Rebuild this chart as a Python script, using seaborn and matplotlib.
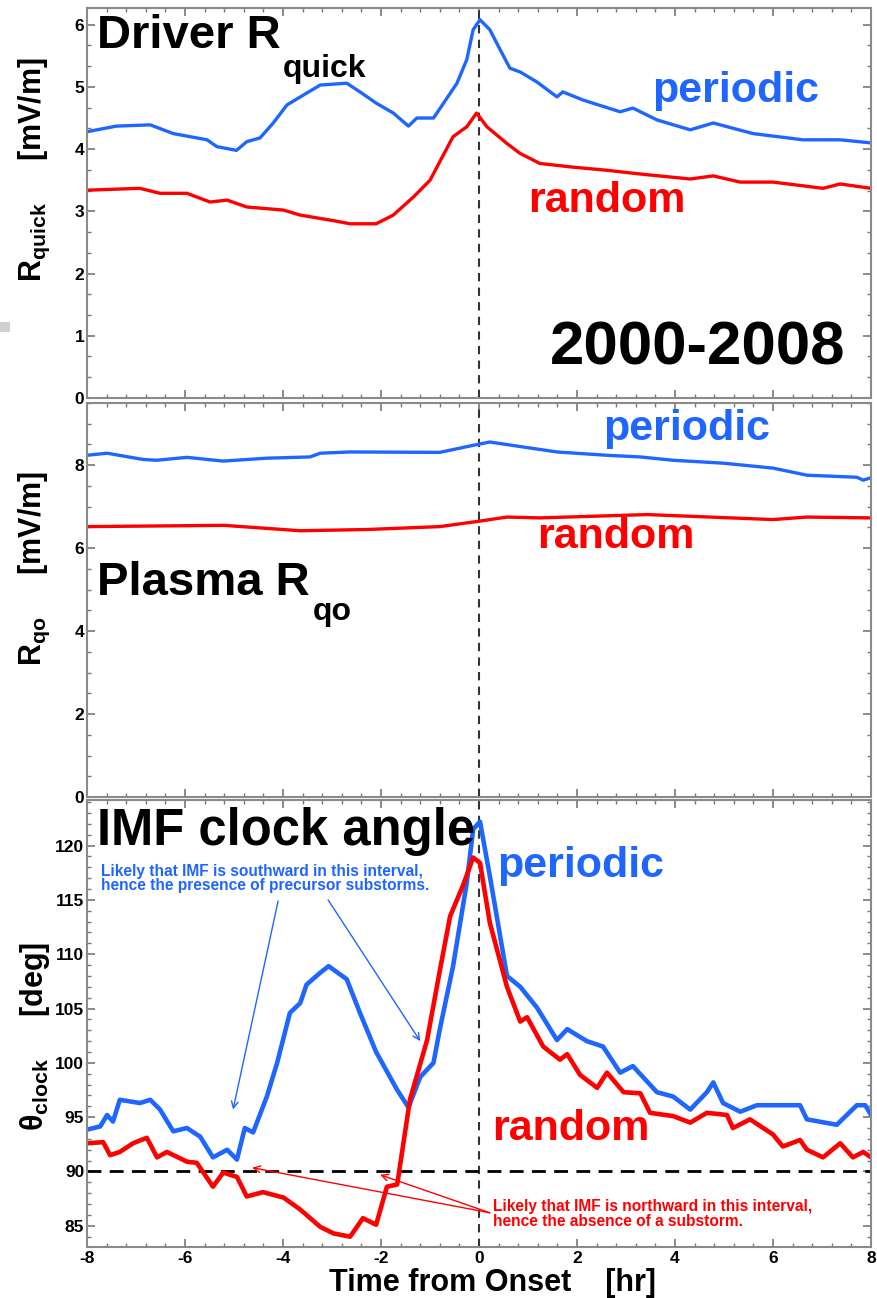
import numpy as np
import pandas as pd
import matplotlib
matplotlib.use("Agg")
import matplotlib.pyplot as plt
import seaborn as sns
from matplotlib.ticker import MultipleLocator, AutoMinorLocator
from matplotlib.patches import Rectangle

# ---------------- data ----------------
p1_periodic_t = [-8, -7.4, -6.71, -6.24, -5.55, -5.35, -4.95, -4.74, -4.47, -4.2, -3.92, -3.52, -3.24, -2.7,
                 -2.43, -2.1, -1.75, -1.44, -1.27, -0.93, -0.8, -0.45, -0.25, -0.12, 0.02, 0.22, 0.43, 0.63,
                 0.84, 1.18, 1.59, 1.71, 2.12, 2.88, 3.14, 3.63, 4.31, 4.78, 5.59, 6.61, 7.37, 8.0]
p1_periodic_v = [4.28, 4.37, 4.39, 4.25, 4.15, 4.04, 3.98, 4.12, 4.18, 4.42, 4.71, 4.9, 5.03, 5.06,
                 4.92, 4.74, 4.58, 4.37, 4.5, 4.5, 4.65, 5.06, 5.44, 5.92, 6.08, 5.92, 5.6, 5.3,
                 5.24, 5.08, 4.84, 4.92, 4.79, 4.6, 4.66, 4.47, 4.31, 4.42, 4.25, 4.15, 4.15, 4.1]

p1_random_t = [-8, -6.92, -6.51, -5.96, -5.49, -5.14, -4.74, -3.99, -3.65, -2.97, -2.63, -2.1, -1.75,
               -1.34, -1.0, -0.8, -0.53, -0.25, -0.05, 0.16, 0.57, 0.84, 1.24, 1.92, 2.61, 3.29, 4.31,
               4.78, 5.33, 6.0, 7.02, 7.37, 8.0]
p1_random_v = [3.34, 3.37, 3.29, 3.29, 3.15, 3.18, 3.07, 3.02, 2.94, 2.85, 2.8, 2.8, 2.94,
               3.23, 3.5, 3.8, 4.2, 4.36, 4.58, 4.36, 4.09, 3.93, 3.77, 3.71, 3.66, 3.6, 3.52,
               3.57, 3.47, 3.47, 3.37, 3.44, 3.37]

p2_periodic_t = [-8, -7.59, -6.86, -6.58, -5.96, -5.22, -4.33, -3.45, -3.24, -2.63, -0.8, -0.12, 0.22,
                 0.9, 1.59, 2.61, 3.29, 3.96, 4.98, 6.0, 6.69, 7.71, 7.84, 8.0]
p2_periodic_v = [8.24, 8.29, 8.14, 8.12, 8.19, 8.1, 8.17, 8.2, 8.29, 8.32, 8.31, 8.48, 8.56,
                 8.44, 8.32, 8.24, 8.2, 8.12, 8.05, 7.93, 7.76, 7.71, 7.64, 7.7]

p2_random_t = [-8, -5.2, -3.65, -2.29, -0.8, 0.0, 0.57, 1.24, 3.43, 6.0, 6.69, 8.0]
p2_random_v = [6.52, 6.55, 6.42, 6.45, 6.52, 6.65, 6.75, 6.73, 6.81, 6.69, 6.75, 6.73]

p3_periodic_t = [-8, -7.73, -7.59, -7.47, -7.33, -6.92, -6.71, -6.51, -6.24, -5.96, -5.69, -5.43, -5.14,
                 -4.94, -4.78, -4.61, -4.33, -4.12, -3.86, -3.65, -3.52, -3.24, -3.07, -2.7, -2.43, -2.1,
                 -1.67, -1.44, -1.2, -0.93, -0.8, -0.53, -0.25, -0.12, 0.02, 0.22, 0.57, 0.84, 1.18, 1.59,
                 1.8, 2.2, 2.53, 2.88, 3.14, 3.63, 3.96, 4.31, 4.65, 4.78, 4.98, 5.33, 5.67, 6.55, 6.69,
                 7.3, 7.71, 7.88, 8.0]
p3_periodic_v = [93.85, 94.15, 95.2, 94.6, 96.6, 96.3, 96.6, 95.7, 93.7, 94.0, 93.2, 91.3, 92.0,
                 91.1, 94.0, 93.6, 96.9, 100.0, 104.6, 105.5, 107.2, 108.3, 108.9, 107.7, 104.6, 101.0,
                 97.5, 95.9, 98.7, 100.0, 103.1, 108.9, 116.6, 121.5, 122.2, 117.2, 108.0, 107.0, 105.1,
                 102.1, 103.1, 102.0, 101.5, 99.1, 99.7, 97.3, 96.9, 95.7, 97.3, 98.2, 96.3, 95.5, 96.1,
                 96.1, 94.8, 94.3, 96.1, 96.1, 95.2]

p3_random_t = [-8, -7.67, -7.53, -7.33, -7.06, -6.78, -6.57, -6.37, -5.96, -5.76, -5.43, -5.22, -4.94,
               -4.74, -4.41, -3.99, -3.65, -3.24, -2.97, -2.63, -2.37, -2.1, -1.88, -1.67, -1.41, -1.06,
               -0.8, -0.59, -0.33, -0.12, 0.02, 0.22, 0.57, 0.84, 0.98, 1.31, 1.65, 1.8, 2.06, 2.41,
               2.61, 2.95, 3.29, 3.49, 3.96, 4.31, 4.65, 5.06, 5.18, 5.53, 6.0, 6.2, 6.55, 6.69, 7.02,
               7.37, 7.63, 7.84, 8.0]
p3_random_v = [92.6, 92.7, 91.5, 91.8, 92.6, 93.1, 91.3, 91.8, 90.9, 90.8, 88.6, 89.9, 89.5,
               87.7, 88.1, 87.6, 86.5, 84.9, 84.3, 84.0, 85.7, 85.1, 88.6, 88.8, 96.6, 102.1,
               108.5, 113.5, 116.3, 118.9, 118.4, 112.9, 107.0, 103.8, 104.2, 101.5, 100.3, 100.8, 98.9,
               97.7, 99.1, 97.3, 97.2, 95.4, 95.1, 94.5, 95.4, 95.2, 94.0, 94.8, 93.4, 92.3, 92.9,
               92.0, 91.3, 92.6, 91.3, 91.8, 91.3]

series_names = ["periodic", "random"]
x_ticks = [-8, -6, -4, -2, 0, 2, 4, 6, 8]
panel_titles = ["Driver R", "Plasma R", "IMF clock angle"]
panel_subs = ["quick", "qo", None]
note_south = "Likely that IMF is southward in this interval,\nhence the presence of precursor substorms."
note_north = "Likely that IMF is northward in this interval,\nhence the absence of a substorm."

BLUE = "#1F66FF"
RED = "#FF0000"

# ---------------- style ----------------
sns.set_style("ticks")
plt.rcParams["font.family"] = ["Liberation Sans", "DejaVu Sans"]
plt.rcParams["font.weight"] = "bold"
plt.rcParams["mathtext.fontset"] = "custom"
plt.rcParams["mathtext.rm"] = "Liberation Sans:bold"
plt.rcParams["mathtext.bf"] = "Liberation Sans:bold"
plt.rcParams["mathtext.it"] = "Liberation Sans:bold"
plt.rcParams["axes.edgecolor"] = "#8a8a8a"
plt.rcParams["axes.linewidth"] = 1.5
plt.rcParams["text.color"] = "black"
plt.rcParams["axes.labelcolor"] = "black"
plt.rcParams["xtick.labelcolor"] = "black"
plt.rcParams["ytick.labelcolor"] = "black"

fig = plt.figure(figsize=(8.78, 12.98), dpi=100)
fig.patch.set_facecolor("white")

L, W = 0.0991, 0.893
ax1 = fig.add_axes([L, 0.6934, W, 0.3005])
ax2 = fig.add_axes([L, 0.3860, W, 0.3035])
ax3 = fig.add_axes([L, 0.0393, W, 0.3444])


def frame(df_p, df_r, ax, lw):
    d = pd.concat([df_p, df_r], ignore_index=True)
    sns.lineplot(data=d, x="t", y="v", hue="series", palette={"periodic": BLUE, "random": RED},
                 hue_order=series_names, ax=ax, linewidth=lw, legend=False, sort=True,
                 estimator=None, errorbar=None)


def mk(t, v, name):
    return pd.DataFrame({"t": t, "v": v, "series": name})


frame(mk(p1_periodic_t, p1_periodic_v, "periodic"), mk(p1_random_t, p1_random_v, "random"), ax1, 2.4)
frame(mk(p2_periodic_t, p2_periodic_v, "periodic"), mk(p2_random_t, p2_random_v, "random"), ax2, 2.4)
frame(mk(p3_periodic_t, p3_periodic_v, "periodic"), mk(p3_random_t, p3_random_v, "random"), ax3, 3.3)

ylims = [(0, 6.27), (0, 9.5), (83.05, 124.2)]
ymaj = [1, 2, 5]
ymin = [3, 4, 5]
for ax, yl, mj, mn in zip([ax1, ax2, ax3], ylims, ymaj, ymin):
    ax.set_xlim(-8, 8)
    ax.set_ylim(*yl)
    ax.xaxis.set_major_locator(MultipleLocator(2))
    ax.xaxis.set_minor_locator(AutoMinorLocator(5))
    ax.yaxis.set_major_locator(MultipleLocator(mj))
    ax.yaxis.set_minor_locator(AutoMinorLocator(mn))
    ax.tick_params(which="both", direction="in", top=True, right=True, color="#777777",
                   labelsize=12.5, pad=2, labelcolor="black")
    ax.tick_params(which="major", length=6, width=1.2)
    ax.tick_params(which="minor", length=3, width=1.0)
    ax.axvline(0, color="#333333", lw=1.5, ls=(0, (4, 3)), zorder=1)
    ax.set_xlabel("")
    for lab in ax.get_yticklabels() + ax.get_xticklabels():
        lab.set_fontweight("bold")

ax1.set_xticks(x_ticks)
ax1.tick_params(labelbottom=False)
ax2.tick_params(labelbottom=False)
ax3.set_xticks(x_ticks)
ax3.set_xticklabels([str(v) for v in x_ticks], fontweight="bold")
ax3.tick_params(axis="x", pad=3)
ax3.axhline(90, color="black", lw=2.0, ls=(0, (5, 3)), zorder=1)

# y labels
ax1.set_ylabel(r"$\mathbf{R_{quick}}$     [mV/m]", fontsize=22, fontweight="bold")
ax2.set_ylabel(r"$\mathbf{R_{qo}}$     [mV/m]", fontsize=22, fontweight="bold")
ax3.set_ylabel(r"$\mathbf{\theta_{clock}}$     [deg]", fontsize=22, fontweight="bold")
ax1.yaxis.set_label_coords(-0.045, 0.585)
ax2.yaxis.set_label_coords(-0.045, 0.58)
ax3.yaxis.set_label_coords(-0.045, 0.472)
ax3.set_xlabel("Time from Onset    [hr]", fontsize=22, fontweight="bold", labelpad=0)
ax3.xaxis.set_label_coords(0.517, -0.048)
ax3.xaxis.label.set_va("top")

# panel titles
ax1.text(0.0125, 0.897, panel_titles[0], transform=ax1.transAxes, fontsize=34, fontweight="bold",
         va="baseline", ha="left")
ax1.text(0.25, 0.823, panel_subs[0], transform=ax1.transAxes, fontsize=23, fontweight="bold",
         va="baseline", ha="left")
ax1.text(0.967, 0.085, "2000-2008", transform=ax1.transAxes, fontsize=44.5, fontweight="bold",
         va="baseline", ha="right")
ax1.text(0.7207, 0.759, series_names[0], transform=ax1.transAxes, fontsize=31, fontweight="bold",
         color=BLUE, va="baseline", ha="left")
ax1.text(0.5625, 0.477, series_names[1], transform=ax1.transAxes, fontsize=31, fontweight="bold",
         color=RED, va="baseline", ha="left")

ax2.text(0.0125, 0.513, panel_titles[1], transform=ax2.transAxes, fontsize=34, fontweight="bold",
         va="baseline", ha="left")
ax2.text(0.288, 0.449, panel_subs[1], transform=ax2.transAxes, fontsize=23, fontweight="bold",
         va="baseline", ha="left")
ax2.text(0.658, 0.906, series_names[0], transform=ax2.transAxes, fontsize=31, fontweight="bold",
         color=BLUE, va="baseline", ha="left")
ax2.text(0.574, 0.632, series_names[1], transform=ax2.transAxes, fontsize=31, fontweight="bold",
         color=RED, va="baseline", ha="left")

ax3.text(0.0125, 0.899, panel_titles[2], transform=ax3.transAxes, fontsize=36.5, fontweight="bold",
         va="baseline", ha="left")
ax3.text(0.523, 0.828, series_names[0], transform=ax3.transAxes, fontsize=31, fontweight="bold",
         color=BLUE, va="baseline", ha="left")
ax3.text(0.5166, 0.239, series_names[1], transform=ax3.transAxes, fontsize=31, fontweight="bold",
         color=RED, va="baseline", ha="left")

ax3.text(0.0179, 0.857, note_south, transform=ax3.transAxes, fontsize=11.2, fontweight="bold",
         color=BLUE, va="top", ha="left", linespacing=0.95)
ax3.text(0.518, 0.107, note_north, transform=ax3.transAxes, fontsize=11.2, fontweight="bold",
         color=RED, va="top", ha="left", linespacing=0.95)

arrow_b = dict(arrowstyle="->", color=BLUE, lw=1.0, mutation_scale=12, shrinkA=0, shrinkB=0)
ax3.annotate("", xy=(-5.02, 95.7), xytext=(-4.10, 114.9), arrowprops=arrow_b)
ax3.annotate("", xy=(-1.20, 102.0), xytext=(-3.08, 115.0), arrowprops=arrow_b)
arrow_r = dict(arrowstyle="->", color=RED, lw=1.0, mutation_scale=12, shrinkA=0, shrinkB=0)
ax3.annotate("", xy=(-4.63, 90.35), xytext=(0.22, 86.2), arrowprops=arrow_r)
ax3.annotate("", xy=(-2.02, 89.7), xytext=(0.22, 86.2), arrowprops=arrow_r)

# small grey artefact at left edge
fig.patches.append(Rectangle((0.0, 1 - 332 / 1298), 10 / 878, 10 / 1298, transform=fig.transFigure,
                             facecolor="#d0d0d0", edgecolor="none"))

fig.savefig("out.png", dpi=100, facecolor="white")
